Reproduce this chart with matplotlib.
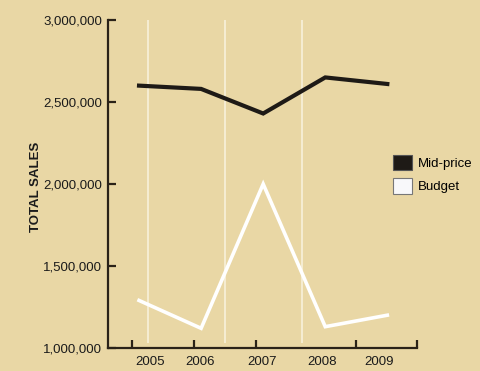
import matplotlib
matplotlib.use("Agg")
import matplotlib.pyplot as plt
from matplotlib.patches import Patch
from matplotlib.ticker import FuncFormatter

years = ["2005", "2006", "2007", "2008", "2009"]
mid_price = [2600000, 2580000, 2430000, 2650000, 2610000]
budget = [1290000, 1120000, 2000000, 1130000, 1200000]
y_ticks = [1000000, 1500000, 2000000, 2500000, 3000000]

plt.rcParams['font.family'] = ['Liberation Sans Narrow', 'Liberation Sans', 'DejaVu Sans']

bg = '#E9D7A5'
ink = '#2A2218'

fig = plt.figure(figsize=(4.8, 3.71), dpi=100, facecolor=bg)
ax = fig.add_axes([0.225, 0.062, 0.644, 0.884], facecolor=bg)

x = list(range(len(years)))

# white vertical guide lines
for gx in [0.15, 1.39, 2.63]:
    ax.plot([gx, gx], [1030000, 3010000], color='#F7EFD6', lw=1.3, zorder=1, solid_capstyle='butt')

ax.plot(x, mid_price, color='#1E1A16', lw=3.0, zorder=3, solid_joinstyle='miter', label='Mid-price')
ax.plot(x, budget, color='#FFFFFF', lw=2.6, zorder=3, solid_joinstyle='miter', label='Budget')

ax.set_xlim(-0.5, 4.48)
ax.set_ylim(1000000, 3000000)

for s in ['top', 'right']:
    ax.spines[s].set_visible(False)
for s in ['left', 'bottom']:
    ax.spines[s].set_color(ink)
    ax.spines[s].set_linewidth(1.6)

ax.set_yticks(y_ticks)
ax.yaxis.set_major_formatter(FuncFormatter(lambda v, p: f"{int(v):,}"))
ax.tick_params(axis='y', direction='in', length=6, width=1.6, color=ink, labelsize=9.5, labelcolor='#1A1A1A', pad=4)

ax.set_xticks([0.18, 0.98, 1.98, 2.95, 3.87])
ax.set_xticklabels(years)
ax.tick_params(axis='x', which='major', length=0, labelsize=9.5, labelcolor='#1A1A1A', pad=6)
ax.set_xticks([-0.11, 0.89, 1.89, 3.5, 4.48], minor=True)
ax.tick_params(axis='x', which='minor', direction='in', length=6, width=1.6, color=ink)

ax.set_ylabel('TOTAL SALES', fontsize=9.5, fontweight='bold', color='#1A1A1A')
ax.yaxis.set_label_coords(-0.215, 0.49)

handles = [Patch(facecolor='#1E1A16', edgecolor='#555555', lw=0.8),
           Patch(facecolor='#F8F8FA', edgecolor='#777777', lw=0.8)]
fig.legend(handles, ['Mid-price', 'Budget'], loc='upper left', bbox_to_anchor=(0.793, 0.615),
           frameon=False, handlelength=1.45, handleheight=1.45, handletextpad=0.5,
           labelspacing=0.6, fontsize=9.5)

fig.savefig('out.png', dpi=100, facecolor=bg)
